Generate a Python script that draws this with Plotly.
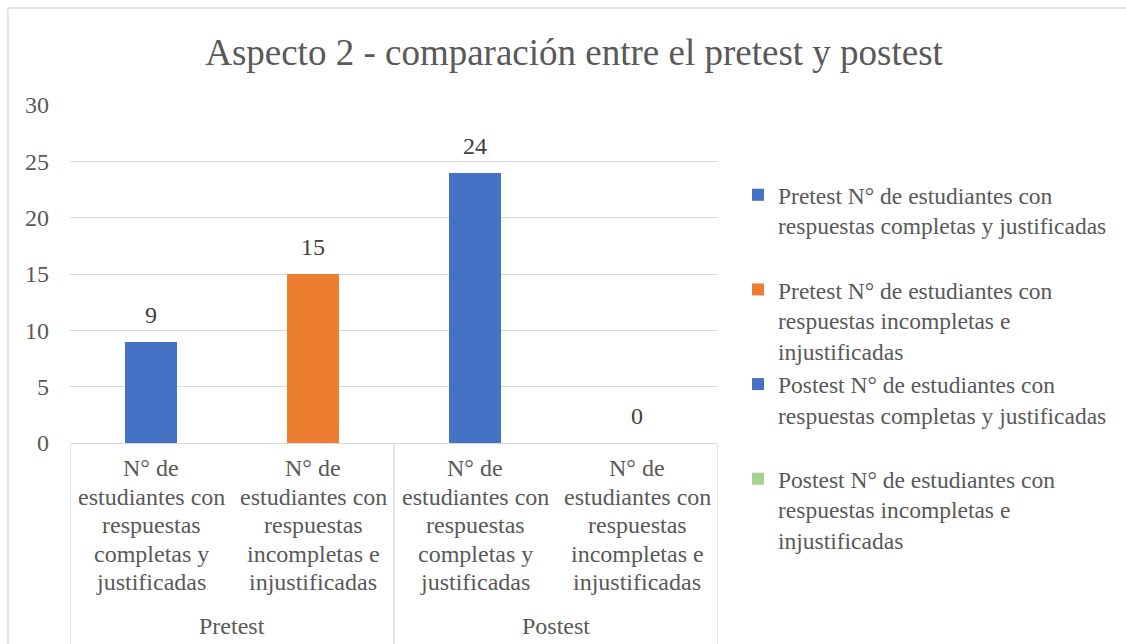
import plotly.graph_objects as go

groups = ["Pretest", "Postest"]
subcats = ["N° de<br>estudiantes con<br>respuestas<br>completas y<br>justificadas",
           "N° de<br>estudiantes con<br>respuestas<br>incompletas e<br>injustificadas",
           "N° de<br>estudiantes con<br>respuestas<br>completas y<br>justificadas",
           "N° de<br>estudiantes con<br>respuestas<br>incompletas e<br>injustificadas"]
series_names = ["Pretest N° de estudiantes con<br>respuestas completas y justificadas<br> ",
                "Pretest N° de estudiantes con<br>respuestas incompletas e<br>injustificadas",
                "Postest N° de estudiantes con<br>respuestas completas y justificadas<br> ",
                "Postest N° de estudiantes con<br>respuestas incompletas e<br>injustificadas"]
values = [9, 15, 24, 0]
colors = ["#4472C4", "#ED7D31", "#4472C4", "#A9D18E"]
yticks = [0, 5, 10, 15, 20, 25, 30]

FONT = "Liberation Serif, Times New Roman, serif"
GRAY = "#595959"
PH = 338.0  # plot height px


def py(pixel_y):
    return (443 - pixel_y) / PH


def px(pixel_x):
    return (pixel_x - 70) / 648.0


fig = go.Figure()
for i in range(4):
    fig.add_trace(go.Bar(
        x=[i], y=[values[i]], name=series_names[i],
        marker=dict(color=colors[i], line=dict(width=0)),
        width=0.315,
        legendgroup=str(i),
        hoverinfo="x+y",
    ))

annotations = []
# data labels
for i in range(4):
    annotations.append(dict(x=i, xref="x", y=values[i], yref="y", text=str(values[i]),
                            showarrow=False, yanchor="bottom", xanchor="center", yshift=12,
                            font=dict(family=FONT, size=24, color="#404040")))
# category labels (line by line for Excel-like line spacing)
for i in range(4):
    for k, line in enumerate(subcats[i].split("<br>")):
        annotations.append(dict(x=i, xref="x", y=py(468 + k * 28.5), yref="paper", text=line,
                                showarrow=False, yanchor="middle", xanchor="center",
                                font=dict(family=FONT, size=24, color=GRAY)))
for gi, gname in enumerate(groups):
    annotations.append(dict(x=gi * 2 + 0.5, xref="x", y=py(626), yref="paper", text=gname,
                            showarrow=False, yanchor="middle", xanchor="center",
                            font=dict(family=FONT, size=24, color=GRAY)))

shapes = []
for xv in [-0.5, 1.5, 3.5]:
    shapes.append(dict(type="line", xref="x", yref="paper", x0=xv, x1=xv, y0=0, y1=py(660),
                       line=dict(color="#D9D9D9", width=1.3)))
# chart border
shapes.append(dict(type="line", xref="paper", yref="paper", x0=px(8), x1=px(1140),
                   y0=py(8), y1=py(8), line=dict(color="#D9D9D9", width=1.3)))
shapes.append(dict(type="line", xref="paper", yref="paper", x0=px(8), x1=px(8),
                   y0=py(8), y1=py(660), line=dict(color="#D9D9D9", width=1.3)))

fig.update_layout(
    width=1126, height=644,
    margin=dict(l=70, r=408, t=105, b=201),
    paper_bgcolor="white", plot_bgcolor="white",
    title=dict(text="Aspecto 2 - comparación entre el pretest y postest",
               x=574 / 1126, xanchor="center", y=1 - 52 / 644, yanchor="middle",
               font=dict(family=FONT, size=37, color=GRAY)),
    xaxis=dict(range=[-0.5, 3.5], showticklabels=False, showgrid=False, zeroline=False,
               showline=True, linecolor="#D9D9D9", linewidth=1.3, ticks="", fixedrange=True),
    yaxis=dict(range=[0, 30], tickvals=yticks, showgrid=True, gridcolor="#D9D9D9",
               gridwidth=1.3, zeroline=False, showline=False, ticks="", ticklabelstandoff=20,
               tickfont=dict(family=FONT, size=24, color=GRAY), fixedrange=True),
    legend=dict(x=px(738), xanchor="left", y=py(173), yanchor="top",
                font=dict(family=FONT, size=23.5, color=GRAY), valign="top",
                tracegroupgap=0, itemwidth=30, bgcolor="rgba(0,0,0,0)", maxheight=600),
    annotations=annotations, shapes=shapes, bargap=0, showlegend=True,
)

fig.write_html("out.html", config={"displayModeBar": False},
               post_script="document.body.style.margin='0px';")
